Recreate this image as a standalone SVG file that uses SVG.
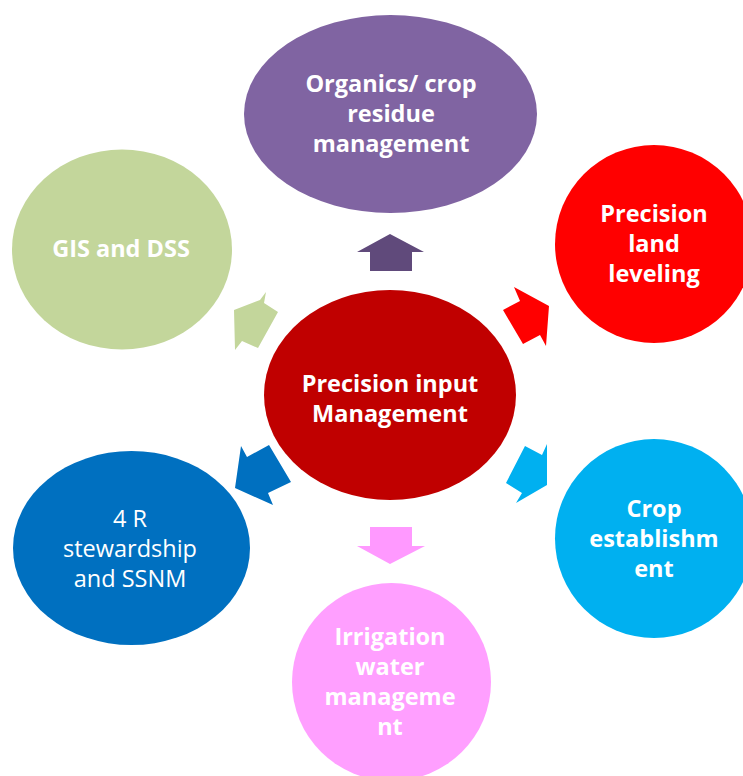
<svg xmlns="http://www.w3.org/2000/svg" width="743" height="776" viewBox="0 0 743 776">
<style>
text{font-family:"Open Sans","Noto Sans","Liberation Sans",sans-serif;font-size:23.5px;fill:#fff;text-anchor:middle}
.b{font-weight:bold}
</style>
<rect width="743" height="776" fill="#fff"/>
<g id="connectors">
<polygon points="390,234 424,252 412,252 412,271 370,271 370,252 357,252" fill="#604A7B"/>
<polygon points="514,287 549,306 546,346 540,335 523,344 503,310 520,301" fill="#FF0000"/>
<polygon points="547,444 547,485 516,503 522,493 506,483 525,446 542,455" fill="#00B0F0"/>
<polygon points="370,527 412,527 412,546 425,546 390,564 357,546 370,546" fill="#FF99FF"/>
<polygon points="235,488 241,446 247,457 269,445 291,482 268,493 273,505" fill="#0070C0"/>
<polygon points="234,310 260,300 266,292 264,303 278,312 258,348 242,341 235,350" fill="#C3D69B"/>
</g>
<g id="center">
<ellipse cx="390" cy="395" rx="126" ry="105" fill="#C00000"/>
<text class="b" x="390" y="392">Precision input</text>
<text class="b" x="390" y="422">Management</text>
</g>
<g id="organics">
<ellipse cx="390.5" cy="114" rx="146.5" ry="99" fill="#8064A2"/>
<text class="b" x="391" y="92">Organics/ crop</text>
<text class="b" x="391" y="122">residue</text>
<text class="b" x="391" y="152">management</text>
</g>
<g id="leveling">
<ellipse cx="654" cy="244" rx="99" ry="99" fill="#FF0000"/>
<text class="b" x="654" y="222">Precision</text>
<text class="b" x="654" y="252">land</text>
<text class="b" x="654" y="282">leveling</text>
</g>
<g id="crop">
<ellipse cx="654" cy="538.5" rx="99" ry="99.5" fill="#00B0F0"/>
<text class="b" x="654" y="517">Crop</text>
<text class="b" x="654" y="547">establishm</text>
<text class="b" x="654" y="577">ent</text>
</g>
<g id="irrigation">
<ellipse cx="391.5" cy="682" rx="99.5" ry="99" fill="#FF9FFF"/>
<text class="b" x="390" y="645">Irrigation</text>
<text class="b" x="390" y="675">water</text>
<text class="b" x="390" y="705">manageme</text>
<text class="b" x="390" y="735">nt</text>
</g>
<g id="stewardship">
<ellipse cx="131.5" cy="548" rx="118.5" ry="97" fill="#0070C0"/>
<text x="130" y="527">4 R</text>
<text x="130" y="557">stewardship</text>
<text x="130" y="587">and SSNM</text>
</g>
<g id="gis">
<ellipse cx="122" cy="249.5" rx="110" ry="100" fill="#C3D69B"/>
<text class="b" x="121" y="257">GIS and DSS</text>
</g>
</svg>
